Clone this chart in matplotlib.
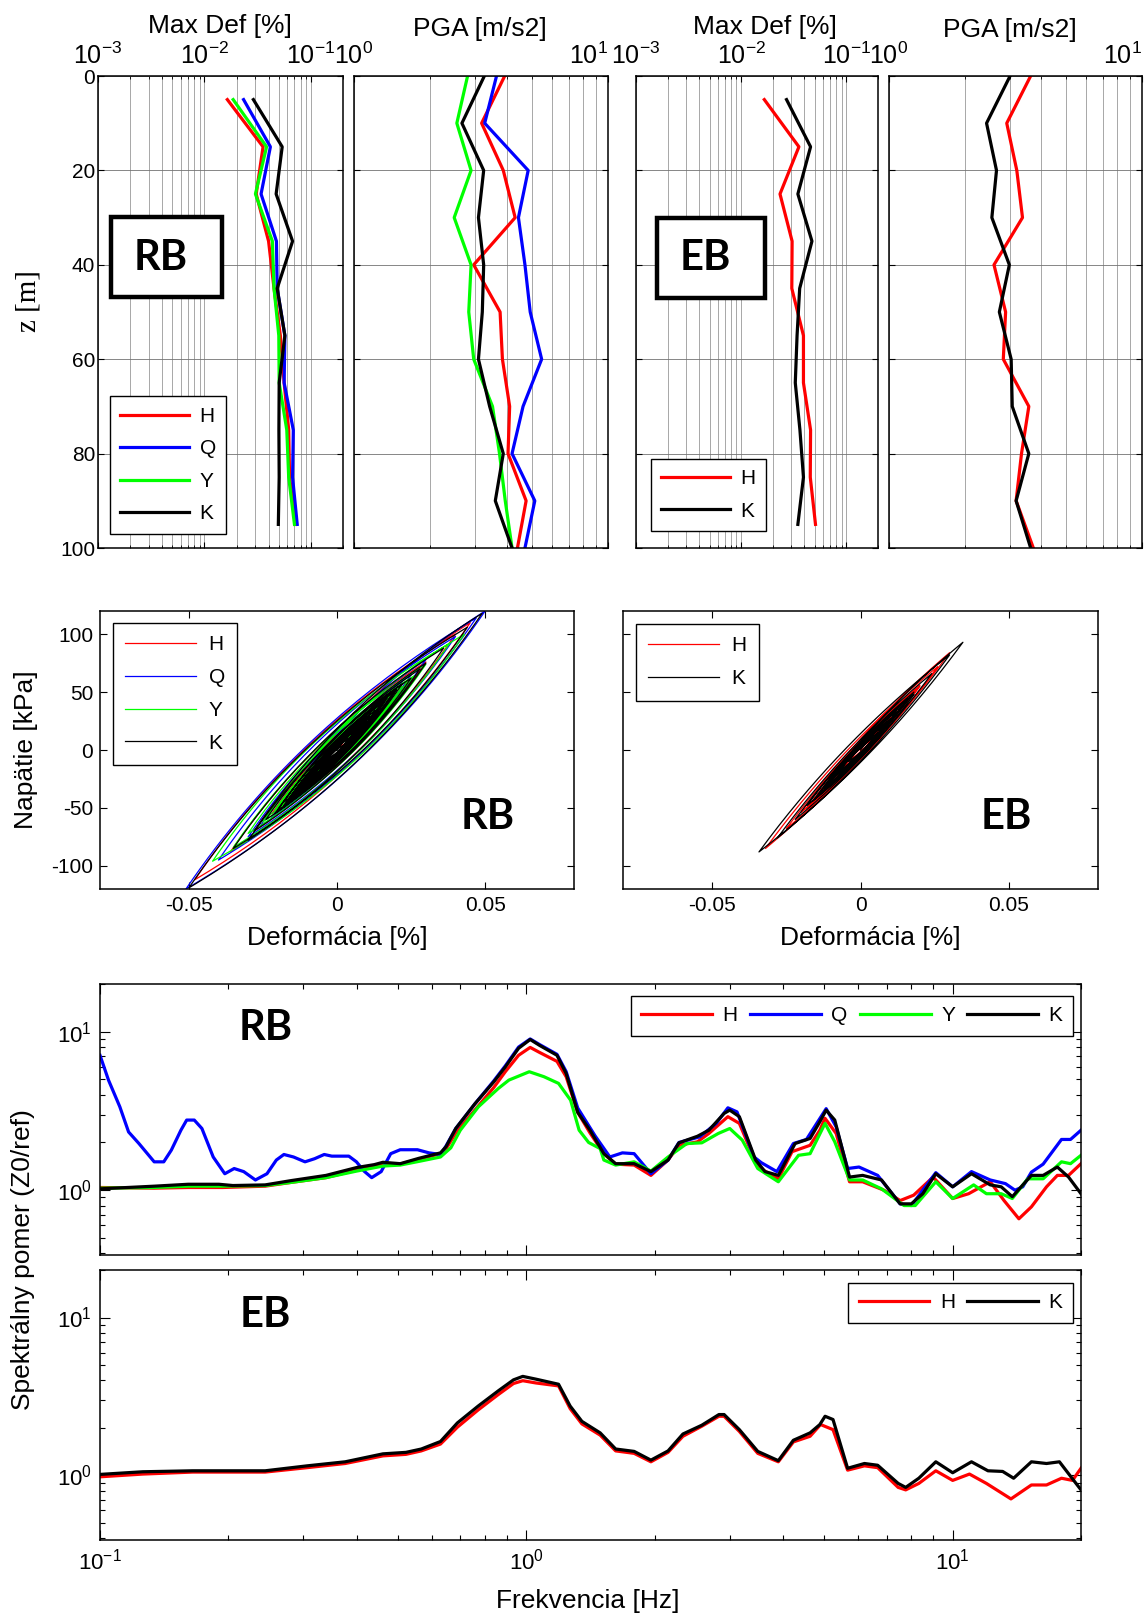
import numpy as np
import matplotlib
matplotlib.use('Agg')
import matplotlib.pyplot as plt
from matplotlib.patches import Rectangle
from matplotlib.ticker import LogLocator, NullFormatter, FixedLocator, FixedFormatter

plt.rcParams['font.family'] = ['Liberation Sans', 'DejaVu Sans']
plt.rcParams['mathtext.fontset'] = 'custom'
plt.rcParams['mathtext.rm'] = 'Liberation Sans'
plt.rcParams['mathtext.it'] = 'Liberation Sans:italic'
plt.rcParams['mathtext.bf'] = 'Liberation Sans:bold'
plt.rcParams['axes.unicode_minus'] = False

# ---------------------------------------------------------------- data
series_rb = ['H', 'Q', 'Y', 'K']
series_eb = ['H', 'K']
colors = {'H': '#ff0000', 'Q': '#0000ff', 'Y': '#00ff00', 'K': '#000000'}

depth_def = [5, 15, 25, 35, 45, 55, 65, 75, 85, 95]
depth_pga = [0, 10, 20, 30, 40, 50, 60, 70, 80, 90, 100]

# maximum shear strain [%] with depth
rb_def_H = [0.0164, 0.0355, 0.0306, 0.0400, 0.0450, 0.0516, 0.0560, 0.0618, 0.0630, 0.0718]
rb_def_Q = [0.0233, 0.0416, 0.0340, 0.0474, 0.0482, 0.0569, 0.0560, 0.0683, 0.0672, 0.0743]
rb_def_Y = [0.0186, 0.0383, 0.0301, 0.0434, 0.0450, 0.0499, 0.0503, 0.0593, 0.0618, 0.0700]
rb_def_K = [0.0288, 0.0537, 0.0471, 0.0672, 0.0482, 0.0569, 0.0503, 0.0500, 0.0503, 0.0494]
eb_def_H = [0.0166, 0.0354, 0.0234, 0.0305, 0.0303, 0.0391, 0.0391, 0.0457, 0.0454, 0.0509]
eb_def_K = [0.0270, 0.0457, 0.0346, 0.0471, 0.0360, 0.0340, 0.0327, 0.0362, 0.0391, 0.0346]

# peak ground acceleration [m/s2] with depth
rb_pga_H = [3.92, 3.18, 3.87, 4.31, 2.96, 3.76, 3.84, 4.10, 4.04, 4.76, 4.40]
rb_pga_Q = [3.64, 3.27, 4.85, 4.44, 4.71, 4.94, 5.48, 4.63, 4.19, 5.15, 4.71]
rb_pga_Y = [2.80, 2.54, 2.89, 2.48, 2.89, 2.83, 2.96, 3.51, 3.74, 3.94, 4.19]
rb_pga_K = [3.26, 2.66, 3.24, 3.09, 3.24, 3.20, 3.09, 3.42, 3.87, 3.60, 4.19]
eb_pga_H = [3.63, 2.92, 3.20, 3.37, 2.60, 2.89, 2.83, 3.57, 3.34, 3.18, 3.72]
eb_pga_K = [3.01, 2.43, 2.66, 2.55, 2.99, 2.73, 3.04, 3.07, 3.57, 3.18, 3.63]

# stress-strain reversal points (strain [%], stress [kPa])
rb_loop_H_strain = [0, 0.010, -0.010, 0.022, -0.020, 0.045, -0.048, 0.040, -0.036, 0.030, -0.028,
                    0.024, -0.022, 0.018, -0.014, 0.012, -0.009, 0.006, -0.004, 0.003]
rb_loop_H_stress = [0, 25, -25, 55, -50, 110, -112, 100, -88, 76, -70,
                    60, -55, 45, -36, 30, -22, 14, -10, 6]
rb_loop_Q_strain = [0, 0.015, -0.012, 0.025, -0.022, 0.050, -0.051, 0.047, -0.040, 0.040, -0.030,
                    0.030, -0.026, 0.022, -0.020, 0.018, -0.015, 0.012, -0.010, 0.008, -0.006, 0.004]
rb_loop_Q_stress = [0, 38, -30, 65, -58, 120, -120, 114, -95, 98, -75,
                    78, -66, 58, -52, 46, -38, 30, -25, 20, -14, 10]
rb_loop_Y_strain = [0, 0.012, -0.012, 0.024, -0.025, 0.043, -0.042, 0.038, -0.035, 0.030, -0.030,
                    0.026, -0.024, 0.022, -0.020, 0.018, -0.016, 0.014, -0.012, 0.010, -0.008,
                    0.006, -0.004, 0.020, -0.018, 0.016, -0.014, 0.012, -0.010, 0.015, -0.017,
                    0.019, -0.021, 0.008, -0.006, 0.004]
rb_loop_Y_stress = [0, 30, -28, 60, -62, 100, -96, 92, -84, 74, -72,
                    64, -58, 55, -50, 45, -40, 35, -30, 25, -20,
                    15, -10, 50, -45, 40, -35, 30, -25, 38, -43,
                    48, -52, 20, -15, 10]
rb_loop_K_strain = [0, 0.012, -0.008, 0.020, -0.018, 0.030, -0.028, 0.049, -0.050, 0.044, -0.035,
                    0.036, -0.030, 0.028, -0.024, 0.025, -0.020, 0.020, -0.018, 0.016, -0.015,
                    0.014, -0.012, 0.012, -0.010, 0.009, -0.008, 0.007, -0.006, 0.005, -0.004,
                    0.022, -0.021, 0.019, -0.017, 0.015, -0.013, 0.011, -0.009, 0.008, -0.007,
                    0.010, -0.011, 0.013, -0.014, 0.017, -0.016, 0.006, -0.005, 0.004, -0.003, 0.002]
rb_loop_K_stress = [0, 30, -22, 52, -45, 75, -70, 118, -119, 106, -85,
                    88, -78, 70, -60, 62, -52, 52, -48, 42, -40,
                    36, -32, 30, -26, 24, -20, 18, -15, 12, -10,
                    57, -55, 50, -45, 40, -34, 29, -24, 21, -18,
                    26, -29, 34, -37, 45, -42, 16, -13, 10, -8, 4]
eb_loop_H_strain = [0, 0.010, -0.012, 0.020, -0.020, 0.030, -0.032, 0.026, -0.025, 0.020, -0.018,
                    0.015, -0.013, 0.010, -0.008, 0.006, -0.004, 0.012, -0.014, 0.017, -0.016,
                    0.008, -0.006, 0.003]
eb_loop_H_stress = [0, 28, -32, 55, -54, 84, -85, 72, -68, 56, -50, 42, -36, 28, -22, 16, -10,
                    33, -38, 47, -44, 22, -16, 8]
eb_loop_K_strain = [0, 0.008, -0.010, 0.018, -0.016, 0.0345, -0.0342, 0.030, -0.028, 0.024, -0.022,
                    0.018, -0.018, 0.014, -0.012, 0.010, -0.008, 0.006, -0.004, 0.016, -0.014,
                    0.012, -0.011, 0.009, -0.007, 0.004]
eb_loop_K_stress = [0, 22, -26, 48, -44, 93, -88, 82, -76, 66, -60, 50, -48, 38, -33, 27, -21, 15,
                    -10, 44, -38, 33, -30, 24, -18, 10]

# spectral ratio Z0/ref
rb_sr_H_f = [0.100, 0.134, 0.161, 0.194, 0.244, 0.281, 0.339, 0.400, 0.461, 0.506, 0.560, 0.629,
             0.648, 0.683, 0.757, 0.839, 0.893, 0.959, 1.021, 1.074, 1.18, 1.24, 1.32, 1.41,
             1.52, 1.62, 1.79, 1.96, 2.15, 2.28, 2.52, 2.68, 2.97, 3.16, 3.49, 3.90, 4.20, 4.63,
             4.88, 5.02, 5.33, 5.73, 6.15, 6.90, 7.53, 8.10, 9.00, 10.0, 10.9, 12.25, 13.2,
             14.3, 15.3, 16.6, 17.6, 18.7, 20.0]
rb_sr_H_a = [1.04, 1.03, 1.04, 1.04, 1.06, 1.12, 1.20, 1.34, 1.46, 1.46, 1.57, 1.70,
             1.82, 2.30, 3.20, 4.45, 5.60, 7.10, 7.96, 7.40, 6.50, 5.20, 3.10, 2.30,
             1.70, 1.46, 1.44, 1.24, 1.55, 1.92, 2.02, 2.28, 2.91, 2.64, 1.40, 1.18, 1.75, 1.92,
             2.39, 2.84, 2.28, 1.13, 1.13, 1.00, 0.86, 0.93, 1.21, 0.886, 0.95, 1.13, 0.86,
             0.66, 0.785, 1.05, 1.24, 1.24, 1.47]
rb_sr_Q_f = [0.100, 0.1047, 0.1113, 0.1167, 0.1234, 0.1340, 0.1411, 0.1470, 0.1548, 0.1597, 0.1664,
             0.1734, 0.1843, 0.1962, 0.2064, 0.2173, 0.2315, 0.2464, 0.2592, 0.2700, 0.2844,
             0.3026, 0.3187, 0.3357, 0.3497, 0.3834, 0.3995, 0.4162, 0.4338, 0.4566, 0.4807,
             0.5060, 0.5554, 0.5912, 0.6293, 0.648, 0.683, 0.757, 0.839, 0.893, 0.959, 1.021,
             1.074, 1.18, 1.24, 1.32, 1.45, 1.57, 1.68, 1.79, 1.96, 2.15, 2.28, 2.55, 2.79,
             2.97, 3.12, 3.42, 3.56, 3.87, 4.23, 4.54, 4.92, 5.05, 5.33, 5.67, 6.03, 6.67,
             7.53, 8.00, 9.13, 10.0, 11.07, 12.25, 13.3, 14.0, 14.6, 15.3, 16.3, 18.0, 18.9, 20.0]
rb_sr_Q_a = [7.10, 4.95, 3.36, 2.33, 1.97, 1.51, 1.51, 1.79, 2.39, 2.77, 2.77,
             2.45, 1.62, 1.27, 1.37, 1.31, 1.16, 1.27, 1.55, 1.68, 1.62,
             1.51, 1.58, 1.68, 1.64, 1.64, 1.51, 1.32, 1.20, 1.31, 1.70,
             1.80, 1.80, 1.72, 1.68, 1.90, 2.45, 3.50, 4.90, 6.10, 8.00, 9.00,
             8.30, 7.20, 5.60, 3.30, 2.20, 1.62, 1.72, 1.70, 1.27, 1.55, 2.00, 2.17, 2.64,
             3.31, 3.12, 1.62, 1.49, 1.31, 1.97, 2.09, 2.93, 3.27, 2.51, 1.37, 1.40, 1.24,
             0.82, 0.80, 1.29, 1.05, 1.31, 1.16, 1.10, 1.00, 1.05, 1.30, 1.46, 2.09, 2.09, 2.39]
rb_sr_Y_f = [0.100, 0.134, 0.161, 0.194, 0.244, 0.281, 0.339, 0.400, 0.461, 0.506, 0.560, 0.629,
             0.665, 0.700, 0.772, 0.860, 0.910, 1.016, 1.10, 1.19, 1.27, 1.33, 1.40, 1.49,
             1.52, 1.62, 1.79, 1.96, 2.15, 2.38, 2.58, 2.82, 3.00, 3.21, 3.49, 3.90, 4.35, 4.63,
             5.02, 5.29, 5.73, 6.15, 6.81, 7.69, 8.17, 9.13, 10.0, 11.2, 12.0, 13.0, 13.8,
             15.0, 16.3, 18.0, 18.9, 20.0]
rb_sr_Y_a = [1.03, 1.04, 1.06, 1.06, 1.07, 1.12, 1.20, 1.32, 1.42, 1.44, 1.52, 1.62,
             1.85, 2.39, 3.36, 4.39, 4.95, 5.59, 5.20, 4.72, 3.70, 2.39, 2.00, 1.83,
             1.55, 1.44, 1.51, 1.32, 1.62, 1.97, 1.99, 2.28, 2.45, 2.07, 1.37, 1.13, 1.66, 1.70,
             2.64, 2.02, 1.16, 1.16, 1.02, 0.80, 0.80, 1.13, 0.886, 1.08, 0.95, 0.95, 0.886,
             1.18, 1.18, 1.51, 1.47, 1.66]
rb_sr_K_f = [0.100, 0.134, 0.161, 0.190, 0.205, 0.244, 0.281, 0.339, 0.400, 0.440, 0.461, 0.506,
             0.560, 0.629, 0.648, 0.683, 0.757, 0.839, 0.893, 0.959, 1.021, 1.074, 1.18, 1.24,
             1.32, 1.41, 1.52, 1.62, 1.79, 1.96, 2.15, 2.28, 2.52, 2.68, 2.91, 3.00, 3.16, 3.45,
             3.63, 3.90, 4.27, 4.63, 4.88, 5.05, 5.29, 5.73, 6.15, 6.81, 7.53, 8.00, 8.51, 9.13,
             10.0, 11.07, 12.25, 13.0, 13.8, 15.3, 16.3, 17.6, 18.7, 20.0]
rb_sr_K_a = [1.02, 1.06, 1.09, 1.09, 1.07, 1.08, 1.15, 1.24, 1.39, 1.45, 1.50, 1.47,
             1.59, 1.72, 1.88, 2.45, 3.50, 4.83, 6.00, 7.86, 8.93, 8.20, 7.10, 5.45,
             3.10, 2.39, 1.70, 1.47, 1.47, 1.31, 1.55, 1.99, 2.19, 2.39, 3.05, 3.20, 2.91, 1.55,
             1.31, 1.24, 1.97, 2.12, 2.70, 3.20, 2.77, 1.21, 1.24, 1.16, 0.82, 0.82, 0.95, 1.27,
             1.05, 1.27, 1.08, 1.05, 0.91, 1.24, 1.24, 1.40, 1.21, 0.95]
eb_sr_H_f = [0.100, 0.126, 0.165, 0.244, 0.306, 0.376, 0.461, 0.522, 0.567, 0.629, 0.689, 0.771,
             0.859, 0.933, 0.981, 1.054, 1.19, 1.267, 1.35, 1.49, 1.62, 1.79, 1.96, 2.15, 2.33,
             2.58, 2.83, 2.91, 3.16, 3.49, 3.90, 4.23, 4.63, 4.90, 5.24, 5.67, 6.21, 6.67, 7.45,
             7.76, 8.33, 9.13, 10.0, 10.95, 12.0, 13.7, 15.3, 16.6, 18.0, 19.1, 20.0]
eb_sr_H_a = [0.98, 1.02, 1.05, 1.05, 1.12, 1.19, 1.33, 1.36, 1.43, 1.58, 2.02, 2.60,
             3.25, 3.82, 3.98, 3.85, 3.69, 2.65, 2.12, 1.80, 1.43, 1.38, 1.22, 1.40, 1.77,
             2.05, 2.37, 2.37, 1.90, 1.38, 1.22, 1.63, 1.77, 2.10, 1.95, 1.08, 1.15, 1.12, 0.84,
             0.81, 0.89, 1.07, 0.93, 1.02, 0.89, 0.71, 0.87, 0.87, 0.96, 0.93, 1.11]
eb_sr_K_f = [0.100, 0.126, 0.165, 0.244, 0.306, 0.376, 0.461, 0.522, 0.567, 0.629, 0.689, 0.771,
             0.859, 0.933, 0.981, 1.054, 1.19, 1.267, 1.35, 1.49, 1.62, 1.79, 1.96, 2.15, 2.33,
             2.58, 2.83, 2.91, 3.16, 3.49, 3.90, 4.23, 4.63, 4.88, 5.02, 5.24, 5.67, 6.21, 6.67,
             7.45, 7.76, 8.33, 9.13, 10.0, 11.07, 12.1, 13.1, 13.9, 15.3, 16.6, 17.8, 20.0]
eb_sr_K_a = [1.015, 1.055, 1.07, 1.07, 1.15, 1.22, 1.37, 1.40, 1.47, 1.64, 2.15, 2.75,
             3.43, 4.03, 4.24, 4.07, 3.78, 2.75, 2.20, 1.86, 1.47, 1.42, 1.25, 1.43, 1.83,
             2.08, 2.43, 2.43, 1.95, 1.42, 1.24, 1.67, 1.86, 2.10, 2.37, 2.26, 1.11, 1.19, 1.16,
             0.89, 0.84, 0.96, 1.22, 1.04, 1.22, 1.07, 1.06, 0.96, 1.22, 1.19, 1.22, 0.81]

# ---------------------------------------------------------------- layout helpers
W, H = 1147, 1618
fig = plt.figure(figsize=(W / 100, H / 100), dpi=100)


def rect(x0, y0, x1, y1):
    return [x0 / W, 1 - y1 / H, (x1 - x0) / W, (y1 - y0) / H]


def ftext(x, y, s, **kw):
    kw.setdefault('ha', 'center')
    kw.setdefault('va', 'center')
    fig.text(x / W, 1 - y / H, s, **kw)


def label_box(x0, y0, x1, y1, tx, ty, s):
    fig.add_artist(Rectangle((x0 / W, 1 - y1 / H), (x1 - x0) / W, (y1 - y0) / H,
                             transform=fig.transFigure, fill=True, facecolor='white',
                             edgecolor='black', lw=3.2, zorder=5))
    ftext(tx, ty, s, family='Lato', weight='bold', fontsize=30, zorder=6)


TICK = 15

# ---------------------------------------------------------------- depth profiles
def depth_axes(box, xlim, major, labels, show_y, right_last=False):
    ax = fig.add_axes(rect(*box))
    ax.set_xscale('log')
    ax.set_xlim(*xlim)
    ax.set_ylim(100, 0)
    ax.xaxis.set_major_locator(FixedLocator(major))
    ax.xaxis.set_major_formatter(FixedFormatter(labels))
    ax.xaxis.set_minor_locator(LogLocator(base=10, subs=np.arange(2, 10), numticks=20))
    ax.xaxis.set_minor_formatter(NullFormatter())
    ax.set_yticks(np.arange(0, 101, 20))
    if not show_y:
        ax.set_yticklabels([])
    ax.tick_params(which='both', direction='in', top=True, bottom=True, left=True, right=True,
                   labeltop=True, labelbottom=False, labelsize=TICK, pad=2)
    ax.tick_params(axis='x', which='major', labelsize=18, pad=5)
    ax.tick_params(which='major', length=4, width=0.8)
    ax.tick_params(which='minor', length=2, width=0.6)
    ax.grid(True, which='both', axis='x', color='0.6', lw=0.6)
    ax.grid(True, which='major', axis='y', color='0.45', lw=0.6)
    ax.set_axisbelow(True)
    for sp in ax.spines.values():
        sp.set_linewidth(1.1)
    if right_last:
        ax.get_xticklabels()[-1].set_horizontalalignment('right')
    return ax


def_ticks = [1e-3, 1e-2, 1e-1]
def_labels = [r'$10^{-3}$', r'$10^{-2}$', r'$10^{-1}$']
pga_ticks = [1, 10]
pga_labels = [r'$10^{0}$', r'$10^{1}$']

ax1 = depth_axes((98, 76, 343, 548), (1e-3, 0.2), def_ticks, def_labels, True)
ax2 = depth_axes((354, 76, 608, 548), (1, 10), pga_ticks, pga_labels, False, True)
ax3 = depth_axes((636, 76, 878, 548), (1e-3, 0.2), def_ticks, def_labels, False)
ax4 = depth_axes((889, 76, 1142, 548), (1, 10), pga_ticks, pga_labels, False, True)

rb_def = {'H': rb_def_H, 'Q': rb_def_Q, 'Y': rb_def_Y, 'K': rb_def_K}
rb_pga = {'H': rb_pga_H, 'Q': rb_pga_Q, 'Y': rb_pga_Y, 'K': rb_pga_K}
eb_def = {'H': eb_def_H, 'K': eb_def_K}
eb_pga = {'H': eb_pga_H, 'K': eb_pga_K}

for s in series_rb:
    ax1.plot(rb_def[s], depth_def, color=colors[s], lw=2.3, label=s)
    ax2.plot(rb_pga[s], depth_pga, color=colors[s], lw=2.3)
for s in series_eb:
    ax3.plot(eb_def[s], depth_def, color=colors[s], lw=2.3, label=s)
    ax4.plot(eb_pga[s], depth_pga, color=colors[s], lw=2.3)

leg_kw = dict(fontsize=TICK, frameon=True, fancybox=False, framealpha=1, edgecolor='black',
              borderaxespad=0, handlelength=3.3, handletextpad=0.5, borderpad=0.5,
              labelspacing=0.65)
lg = ax1.legend(loc='lower left', bbox_to_anchor=(0.049, 0.03), **leg_kw)
lg.get_frame().set_linewidth(1.0)
lg = ax3.legend(loc='lower left', bbox_to_anchor=(0.062, 0.036), **leg_kw)
lg.get_frame().set_linewidth(1.0)

ftext(220, 26, 'Max Def [%]', fontsize=19)
ftext(480, 29, 'PGA [m/s2]', fontsize=19)
ftext(765, 27, 'Max Def [%]', fontsize=19)
ftext(1010, 30, 'PGA [m/s2]', fontsize=19)
ftext(29, 301, 'z [m]', fontsize=21, rotation=90, family='Liberation Serif')

label_box(111, 217, 222, 297, 161, 258, 'RB')
label_box(657, 218, 765, 298, 705, 258, 'EB')


# ---------------------------------------------------------------- stress-strain loops
def branch_path(strain, stress, g0, n=40):
    xs, ys = [strain[0]], [stress[0]]
    for e0, t0, e1, t1 in zip(strain[:-1], stress[:-1], strain[1:], stress[1:]):
        d, dt = e1 - e0, t1 - t0
        s = np.linspace(0, d, n)[1:]
        k = g0 * d / dt
        if k <= 1.02:
            y = t0 + dt * s / d
        else:
            h = abs(d) / (k - 1)
            y = t0 + g0 * s / (1 + np.abs(s) / h)
        xs.extend(e0 + s)
        ys.extend(y)
    return np.array(xs), np.array(ys)


def loop_axes(box, show_y):
    ax = fig.add_axes(rect(*box))
    ax.set_xlim(-0.08, 0.08)
    ax.set_ylim(-120, 120)
    ax.set_xticks([-0.05, 0, 0.05])
    ax.set_xticklabels(['-0.05', '0', '0.05'])
    ax.set_yticks([-100, -50, 0, 50, 100])
    if not show_y:
        ax.set_yticklabels([])
    ax.tick_params(which='both', direction='in', top=True, right=True, labelsize=TICK,
                   length=5, width=0.8, pad=5)
    for sp in ax.spines.values():
        sp.set_linewidth(1.1)
    return ax


ax5 = loop_axes((100, 611, 574, 889), True)
ax6 = loop_axes((623, 611, 1098, 889), False)

rb_loops = {'H': (rb_loop_H_strain, rb_loop_H_stress), 'Q': (rb_loop_Q_strain, rb_loop_Q_stress),
            'Y': (rb_loop_Y_strain, rb_loop_Y_stress), 'K': (rb_loop_K_strain, rb_loop_K_stress)}
eb_loops = {'H': (eb_loop_H_strain, eb_loop_H_stress), 'K': (eb_loop_K_strain, eb_loop_K_stress)}

for s in series_rb:
    x, y = branch_path(*rb_loops[s], g0=3750)
    ax5.plot(x, y, color=colors[s], lw=0.9, label=s)
for s in series_eb:
    x, y = branch_path(*eb_loops[s], g0=3500)
    ax6.plot(x, y, color=colors[s], lw=0.9, label=s)

leg2 = dict(fontsize=TICK, frameon=True, fancybox=False, framealpha=1, edgecolor='black',
            borderaxespad=0, handlelength=3.4, handletextpad=0.6, borderpad=0.6,
            labelspacing=0.66)
ax5.legend(loc='upper left', bbox_to_anchor=(0.027, 0.957), **leg2).get_frame().set_linewidth(1.0)
ax6.legend(loc='upper left', bbox_to_anchor=(0.027, 0.954), **leg2).get_frame().set_linewidth(1.0)

ftext(26, 750, 'Napätie [kPa]', fontsize=19, rotation=90)
ftext(337, 938, 'Deformácia [%]', fontsize=19)
ftext(870, 938, 'Deformácia [%]', fontsize=19)
ftext(488, 817, 'RB', family='Lato', weight='bold', fontsize=30)
ftext(1006, 817, 'EB', family='Lato', weight='bold', fontsize=30)


# ---------------------------------------------------------------- spectral ratios
def spec_axes(box, show_x):
    ax = fig.add_axes(rect(*box))
    ax.set_xscale('log')
    ax.set_yscale('log')
    ax.set_xlim(0.1, 20)
    ax.set_ylim(0.39, 20)
    ax.xaxis.set_major_locator(FixedLocator([0.1, 1, 10]))
    ax.xaxis.set_major_formatter(FixedFormatter([r'$10^{-1}$', r'$10^{0}$', r'$10^{1}$']))
    ax.xaxis.set_minor_locator(LogLocator(base=10, subs=np.arange(2, 10), numticks=20))
    ax.xaxis.set_minor_formatter(NullFormatter())
    ax.yaxis.set_major_locator(FixedLocator([1, 10]))
    ax.yaxis.set_major_formatter(FixedFormatter([r'$10^{0}$', r'$10^{1}$']))
    ax.yaxis.set_minor_locator(LogLocator(base=10, subs=np.arange(2, 10), numticks=20))
    ax.yaxis.set_minor_formatter(NullFormatter())
    ax.tick_params(which='both', direction='in', top=True, right=True, labelsize=16,
                   labelbottom=show_x, pad=6)
    ax.tick_params(which='major', length=7, width=0.8)
    ax.tick_params(which='minor', length=3.5, width=0.8)
    for sp in ax.spines.values():
        sp.set_linewidth(1.1)
    return ax


ax7 = spec_axes((100, 984, 1081, 1255), False)
ax8 = spec_axes((100, 1270, 1081, 1540), True)

rb_sr = {'H': (rb_sr_H_f, rb_sr_H_a), 'Q': (rb_sr_Q_f, rb_sr_Q_a),
         'Y': (rb_sr_Y_f, rb_sr_Y_a), 'K': (rb_sr_K_f, rb_sr_K_a)}
eb_sr = {'H': (eb_sr_H_f, eb_sr_H_a), 'K': (eb_sr_K_f, eb_sr_K_a)}

for s in series_rb:
    ax7.plot(*rb_sr[s], color=colors[s], lw=2.3, label=s)
for s in series_eb:
    ax8.plot(*eb_sr[s], color=colors[s], lw=2.3, label=s)

leg3 = dict(fontsize=TICK, frameon=True, fancybox=False, framealpha=1, edgecolor='black',
            borderaxespad=0, handlelength=3.4, handletextpad=0.5, borderpad=0.5,
            columnspacing=0.6)
ax7.legend(loc='upper right', bbox_to_anchor=(0.992, 0.956), ncol=4, **leg3).get_frame().set_linewidth(1.0)
ax8.legend(loc='upper right', bbox_to_anchor=(0.992, 0.952), ncol=2, **leg3).get_frame().set_linewidth(1.0)

ftext(266, 1028, 'RB', family='Lato', weight='bold', fontsize=30)
ftext(265, 1315, 'EB', family='Lato', weight='bold', fontsize=30)
ftext(23, 1260, 'Spektrálny pomer (Z0/ref)', fontsize=19, rotation=90)
ftext(588, 1601, 'Frekvencia [Hz]', fontsize=19)

fig.savefig('out.png', dpi=100, facecolor='white')
